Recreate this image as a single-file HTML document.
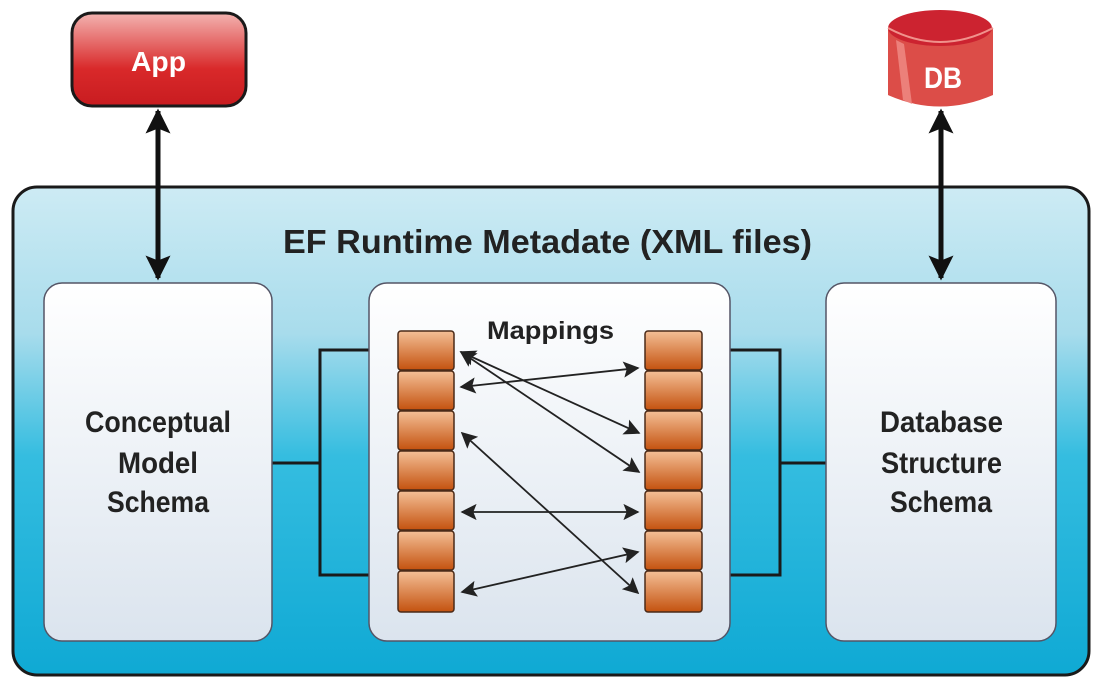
<!DOCTYPE html>
<html><head><meta charset="utf-8"><style>
html,body{margin:0;padding:0;background:#fff;width:1094px;height:685px;overflow:hidden}
svg text{font-family:"Liberation Sans",sans-serif;font-weight:bold}
</style></head><body>
<svg width="1094" height="685" viewBox="0 0 1094 685" xmlns="http://www.w3.org/2000/svg">
<defs>
<linearGradient id="outer" x1="0" y1="0" x2="0" y2="1">
<stop offset="0" stop-color="#cdebf4"/><stop offset="0.3" stop-color="#a8dcec"/><stop offset="0.55" stop-color="#35bde0"/><stop offset="1" stop-color="#0fa9d4"/></linearGradient>
<linearGradient id="box" x1="0" y1="0" x2="0" y2="1">
<stop offset="0" stop-color="#ffffff"/><stop offset="1" stop-color="#dbe4ee"/></linearGradient>
<linearGradient id="cell" x1="0" y1="0" x2="0" y2="1">
<stop offset="0" stop-color="#f4bf96"/><stop offset="1" stop-color="#c4520f"/></linearGradient>
<linearGradient id="app" x1="0" y1="0" x2="0" y2="1">
<stop offset="0" stop-color="#f3b3b0"/><stop offset="0.6" stop-color="#d9292a"/><stop offset="1" stop-color="#c81c20"/></linearGradient>
<marker id="ah" viewBox="0 0 10 10" refX="9" refY="5" markerWidth="9" markerHeight="9" orient="auto-start-reverse">
<path d="M0,0 L10,5 L0,10 L2,5 z" fill="#222"/></marker>
<marker id="bh" viewBox="0 0 10 10" refX="9" refY="5" markerWidth="6" markerHeight="5" orient="auto-start-reverse">
<path d="M0,0 L10,5 L0,10 L2,5 z" fill="#111"/></marker>
</defs>
<rect x="13" y="187" width="1076" height="488" rx="24" fill="url(#outer)" stroke="#1a1a1a" stroke-width="3"/>
<text x="283" y="253" font-size="33" textLength="529" lengthAdjust="spacingAndGlyphs" fill="#222">EF Runtime Metadate (XML files)</text>
<g stroke="#1a1a1a" stroke-width="3" fill="none">
<polyline points="272,463 320,463"/>
<polyline points="398,350 320,350 320,575 398,575"/>
<polyline points="700,350 780,350 780,575 700,575"/>
<polyline points="780,463 826,463"/>
</g>
<rect x="44" y="283" width="228" height="358" rx="18" fill="url(#box)" stroke="#556" stroke-width="1.5"/>
<rect x="369" y="283" width="361" height="358" rx="18" fill="url(#box)" stroke="#556" stroke-width="1.5"/>
<rect x="826" y="283" width="230" height="358" rx="18" fill="url(#box)" stroke="#556" stroke-width="1.5"/>
<g font-size="30" fill="#222" lengthAdjust="spacingAndGlyphs">
<text x="85" y="432" textLength="146" lengthAdjust="spacingAndGlyphs">Conceptual</text>
<text x="118" y="473" textLength="80" lengthAdjust="spacingAndGlyphs">Model</text>
<text x="107" y="512" textLength="102" lengthAdjust="spacingAndGlyphs">Schema</text>
<text x="880" y="432" textLength="123" lengthAdjust="spacingAndGlyphs">Database</text>
<text x="881" y="473" textLength="121" lengthAdjust="spacingAndGlyphs">Structure</text>
<text x="890" y="512" textLength="102" lengthAdjust="spacingAndGlyphs">Schema</text>
</g>
<text x="487" y="339" font-size="25" textLength="127" lengthAdjust="spacingAndGlyphs" fill="#222">Mappings</text>
<g fill="url(#cell)" stroke="#4a2a18" stroke-width="1.5">
<rect x="398" y="331" width="56" height="39" rx="3"/><rect x="398" y="371" width="56" height="39" rx="3"/>
<rect x="398" y="411" width="56" height="39" rx="3"/><rect x="398" y="451" width="56" height="39" rx="3"/>
<rect x="398" y="491" width="56" height="39" rx="3"/><rect x="398" y="531" width="56" height="39" rx="3"/>
<rect x="398" y="571" width="56" height="41" rx="3"/>
<rect x="645" y="331" width="57" height="39" rx="3"/><rect x="645" y="371" width="57" height="39" rx="3"/>
<rect x="645" y="411" width="57" height="39" rx="3"/><rect x="645" y="451" width="57" height="39" rx="3"/>
<rect x="645" y="491" width="57" height="39" rx="3"/><rect x="645" y="531" width="57" height="39" rx="3"/>
<rect x="645" y="571" width="57" height="41" rx="3"/>
</g>
<g stroke="#222" stroke-width="1.8" marker-start="url(#ah)" marker-end="url(#ah)">
<line x1="461" y1="387" x2="638" y2="368"/>
<line x1="461" y1="352" x2="639" y2="433"/>
<line x1="461" y1="352" x2="639" y2="472"/>
<line x1="462" y1="433" x2="638" y2="593"/>
<line x1="462" y1="512" x2="638" y2="512"/>
<line x1="462" y1="592" x2="638" y2="552"/>
</g>
<rect x="72" y="13" width="174" height="93" rx="20" fill="url(#app)" stroke="#1a1a1a" stroke-width="3"/>
<text x="131" y="71" font-size="28" textLength="55" lengthAdjust="spacingAndGlyphs" fill="#fff">App</text>
<path d="M888,28 L888,95 Q940,118 993,95 L993,28 Z" fill="#dc4d48"/>
<ellipse cx="940" cy="28" rx="52" ry="18" fill="#cc2330"/>
<path d="M888,28 Q940,56 993,28" fill="none" stroke="#f0928c" stroke-width="2"/>
<path d="M896,40 L904,44 L912,104 L903,100 Z" fill="#ee8a84" opacity="0.85"/>
<text x="924" y="88" font-size="30" textLength="38" lengthAdjust="spacingAndGlyphs" fill="#fff">DB</text>
<g stroke="#111" stroke-width="5" marker-start="url(#bh)" marker-end="url(#bh)">
<line x1="158" y1="111" x2="158" y2="278"/>
<line x1="941" y1="111" x2="941" y2="278"/>
</g>
</svg>
</body></html>
